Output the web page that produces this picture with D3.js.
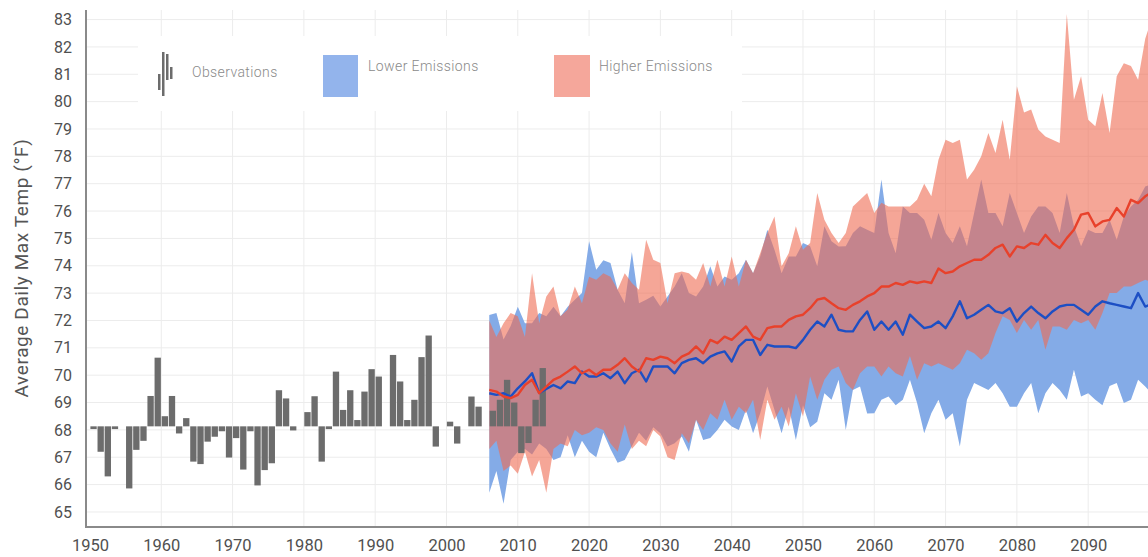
<!DOCTYPE html>
<html>
<head>
<meta charset="utf-8">
<script src="https://cdn.jsdelivr.net/npm/d3@7"></script>
<style>
  html, body { margin: 0; padding: 0; background: #fff; }
  svg { display: block; font-family: Roboto, "Noto Sans", sans-serif; }
</style>
</head>
<body>
<svg id="chart" width="1148" height="557"></svg>
<script>
// Observed annual values (°F), one per year starting 1950; null = no bar drawn
const obsStartYear = 1950;
const obsValues = [
  68.03, 67.2, 66.3, 68.03, null, 65.86, 67.27, 67.6, 69.24, 70.64,
  68.5, 69.24, 67.87, 68.43, 66.84, 66.75, 67.57, 67.75, 67.95, 66.99,
  67.7, 66.55, 67.95, 65.97, 66.53, 66.78, 69.45, 69.15, 67.98, null,
  68.65, 69.23, 66.84, 68.03, 70.13, 68.73, 69.45, 68.36, 69.4, 70.22,
  69.95, null, 70.74, 69.77, 68.36, 69.1, 70.66, 71.45, 67.39, null,
  68.3, 67.5, null, 69.22, 68.85, null, 68.7, 69.1, 69.83, 69.0,
  67.15, 67.52, 69.1, 70.26
];
const obsBaseline = 68.13;

// Modelled projections, one value per year 2006–2100
const projStartYear = 2006;
const higherMedian = [
  69.46, 69.4, 69.22, 69.16, 69.28, 69.64, 69.83, 69.34, 69.58, 69.83, 69.95, 70.13, 70.32, 70.07, 70.2, 70.01, 70.2, 70.2, 70.38, 70.62, 70.32, 70.13, 70.62, 70.56,
  70.68, 70.62, 70.44, 70.68, 70.8, 71.05, 70.8, 71.29, 71.17, 71.41, 71.29, 71.54, 71.78, 71.41, 71.29, 71.72, 71.78, 71.78, 72.02, 72.15, 72.21, 72.45, 72.76, 72.82,
  72.63, 72.45, 72.39, 72.57, 72.7, 72.88, 73.0, 73.24, 73.24, 73.37, 73.3, 73.43, 73.37, 73.43, 73.37, 73.9, 73.73, 73.79, 73.98, 74.1, 74.22, 74.22, 74.4,
  74.65, 74.77, 74.34, 74.71, 74.65, 74.83, 74.77, 75.13, 74.83, 74.65, 75.01, 75.32, 75.87, 75.93, 75.44, 75.62, 75.68, 76.11, 75.8, 76.41, 76.29, 76.54, 76.7, 76.6
];
const lowerMedian = [
  69.34, 69.28, 69.34, 69.22, 69.52, 69.77, 70.07, 69.35, 69.5, 69.64, 69.52, 69.77, 69.71, 70.13, 69.95, 69.95, 70.07, 69.89, 70.13, 69.71, 70.07, 70.2, 69.77, 70.32,
  70.32, 70.32, 70.07, 70.44, 70.56, 70.62, 70.44, 70.68, 70.8, 70.87, 70.5, 71.05, 71.29, 71.29, 70.74, 71.11, 71.05, 71.05, 71.05, 70.99, 71.29, 71.66, 71.96, 71.78,
  72.21, 71.66, 71.6, 71.6, 72.02, 72.33, 71.66, 71.96, 71.66, 71.96, 71.48, 72.21, 71.96, 71.72, 71.78, 71.96, 71.72, 72.15, 72.7, 72.08, 72.21, 72.39, 72.57,
  72.33, 72.27, 72.45, 71.96, 72.27, 72.51, 72.27, 72.08, 72.33, 72.51, 72.57, 72.57, 72.39, 72.21, 72.51, 72.7, 72.63, 72.57, 72.51, 72.45, 73.0, 72.51, 72.6, 72.7
];
const higherMax = [
  72.0, 71.4, 71.9, 72.27, 72.15, 71.4, 73.73, 71.9, 72.88, 73.24, 72.15, 72.4, 73.24, 72.63, 73.6, 73.49, 73.73, 73.6, 73.12, 73.73, 73.37, 73.12, 74.95, 74.22,
  74.1, 72.63, 73.73, 73.79, 73.73, 73.49, 74.1, 73.24, 74.22, 73.24, 74.34, 73.24, 74.22, 73.73, 74.46, 75.2, 75.8, 73.98, 74.46, 75.44, 74.59, 74.83, 76.66, 75.68,
  75.2, 74.83, 75.2, 76.17, 76.41, 76.66, 75.93, 76.3, 76.17, 76.17, 76.17, 76.17, 76.41, 77.0, 76.54, 77.88, 78.61, 78.49, 78.61, 77.15, 77.51, 78.0, 78.85,
  78.12, 79.34, 77.88, 80.56, 79.6, 79.71, 78.98, 78.73, 78.61, 78.49, 83.2, 80.07, 80.93, 79.34, 79.1, 80.32, 78.85, 80.93, 81.4, 81.3, 80.8, 82.3, 83.1, 82.5
];
const higherMin = [
  67.3, 67.6, 66.5, 66.7, 66.4, 67.2, 66.3, 66.9, 65.7, 67.3, 67.5, 67.4, 68.0, 67.8, 67.9, 68.1, 68.0, 67.5, 67.2, 68.2, 67.3, 67.6, 67.4, 68.0,
  67.76, 67.0, 66.9, 67.88, 67.51, 68.37, 68.0, 68.61, 68.37, 69.1, 68.37, 68.85, 68.61, 69.1, 67.63, 69.1, 68.37, 68.85, 68.12, 69.34, 68.49, 69.95, 69.1, 69.83,
  70.2, 70.32, 69.71, 69.46, 70.07, 70.32, 70.32, 69.95, 70.32, 70.07, 69.95, 70.7, 69.83, 70.44, 70.32, 70.44, 70.32, 70.2, 70.44, 70.93, 70.8, 70.56, 70.8,
  71.54, 72.15, 72.02, 71.54, 72.02, 71.66, 72.02, 70.93, 71.78, 71.78, 71.66, 72.02, 71.9, 72.02, 71.66, 72.27, 73.0, 73.0, 73.24, 73.24, 73.37, 73.49, 73.4, 73.5
];
const lowerMax = [
  72.2, 72.27, 71.3, 71.8, 72.5, 71.9, 71.9, 72.27, 72.15, 72.5, 72.15, 72.5, 72.76, 73.0, 74.9, 73.85, 74.2, 74.1, 73.12, 72.63, 74.5, 72.63, 72.76, 72.9,
  72.51, 72.88, 73.24, 73.73, 73.0, 72.88, 73.24, 73.98, 73.24, 73.61, 73.49, 73.73, 74.22, 73.73, 74.34, 75.32, 74.59, 73.73, 74.34, 74.34, 74.83, 74.71, 73.98, 75.44,
  74.9, 74.7, 74.71, 75.2, 75.44, 75.32, 75.2, 77.15, 75.2, 74.46, 76.17, 75.93, 75.93, 75.68, 74.95, 75.93, 75.2, 74.83, 75.44, 74.71, 75.93, 77.15, 75.93,
  75.93, 75.44, 76.66, 75.93, 75.2, 75.8, 76.17, 76.17, 75.93, 75.2, 76.66, 75.44, 74.71, 75.32, 75.2, 75.2, 75.68, 74.95, 75.8, 76.17, 76.41, 76.9, 77.0, 77.2
];
const lowerMin = [
  65.7, 66.5, 65.3, 66.9, 67.2, 67.3, 67.1, 67.5, 67.3, 66.9, 67.0, 67.8, 67.0, 67.6, 67.2, 67.0, 67.9, 67.3, 66.8, 66.9, 67.4, 67.9, 67.6, 68.1,
  67.88, 67.39, 67.51, 67.76, 67.2, 68.37, 67.63, 67.7, 68.0, 68.37, 68.12, 68.0, 68.73, 67.88, 68.61, 69.59, 68.73, 67.88, 68.85, 67.63, 68.9, 68.1, 68.3, 69.34,
  69.1, 69.83, 68.0, 69.46, 69.59, 68.6, 68.61, 69.1, 69.22, 68.9, 69.1, 69.83, 68.98, 67.88, 68.61, 69.1, 68.37, 68.61, 67.39, 69.1, 69.71, 69.59, 69.46,
  69.71, 69.34, 68.85, 68.85, 69.34, 69.71, 68.61, 69.34, 69.71, 69.46, 69.1, 70.2, 69.22, 69.34, 69.1, 68.9, 69.6, 69.71, 68.98, 69.1, 69.83, 69.59, 69.3, 69.5
];

// Axis ticks
const yTicks = d3.range(65, 84);
const xTicks = d3.range(1950, 2100, 10);

const W = 1148, H = 557;
const svg = d3.select("#chart");

const x = d3.scaleLinear().domain([1949.44, 2100]).range([86, 86 + 150.56 * 7.13]);
const y = d3.scaleLinear().domain([64.45, 83.35]).range([527, 10]);

const obs = obsValues.map((v, i) => ({ year: obsStartYear + i, v }));
const proj = higherMedian.map((_, i) => ({
  year: projStartYear + i,
  hiMed: higherMedian[i], loMed: lowerMedian[i],
  hiMax: higherMax[i], hiMin: higherMin[i],
  loMax: lowerMax[i], loMin: lowerMin[i]
}));

svg.append("defs").append("clipPath").attr("id", "plot")
  .append("rect").attr("x", 86).attr("y", 0).attr("width", W - 86).attr("height", 527);

// Grid
const grid = svg.append("g").attr("stroke", "#ececec").attr("stroke-width", 1);
grid.selectAll("line.h").data(yTicks).join("line")
  .attr("x1", 86).attr("x2", W).attr("y1", d => y(d)).attr("y2", d => y(d));
grid.selectAll("line.v").data(xTicks.filter(d => d > 1950)).join("line")
  .attr("y1", 10).attr("y2", 527).attr("x1", d => x(d)).attr("x2", d => x(d));

const plot = svg.append("g").attr("clip-path", "url(#plot)");

// Model ranges
plot.append("path").datum(proj)
  .attr("fill", "#84abe7")
  .attr("d", d3.area().x(d => x(d.year)).y0(d => y(d.loMin)).y1(d => y(d.loMax)));
plot.append("path").datum(proj)
  .attr("fill", "#ee6a52").attr("fill-opacity", 0.6)
  .attr("d", d3.area().x(d => x(d.year)).y0(d => y(d.hiMin)).y1(d => y(d.hiMax)));

// Observation bars, measured from the baseline
plot.append("g").attr("fill", "#6c6c6c")
  .selectAll("rect").data(obs.filter(d => d.v !== null)).join("rect")
  .attr("x", d => x(d.year) + 0.4)
  .attr("width", d => x(d.year + 1) - x(d.year) - 0.8)
  .attr("y", d => y(Math.max(d.v, obsBaseline)))
  .attr("height", d => Math.abs(y(d.v) - y(obsBaseline)));

// Median lines
plot.append("path").datum(proj)
  .attr("fill", "none").attr("stroke", "#1d4fc4").attr("stroke-width", 2.4)
  .attr("stroke-linejoin", "round")
  .attr("d", d3.line().x(d => x(d.year)).y(d => y(d.loMed)));
plot.append("path").datum(proj)
  .attr("fill", "none").attr("stroke", "#e8412b").attr("stroke-width", 2.4)
  .attr("stroke-linejoin", "round")
  .attr("d", d3.line().x(d => x(d.year)).y(d => y(d.hiMed)));

// Axes
const yAxis = svg.append("g").attr("transform", "translate(86,0)")
  .call(d3.axisLeft(y).tickValues(yTicks).tickSize(0).tickPadding(14).tickFormat(d3.format("d")));
yAxis.select(".domain").remove();
yAxis.selectAll("text").attr("fill", "#505050").attr("font-size", 16).attr("font-family", "Roboto, sans-serif");

const xAxis = svg.append("g").attr("transform", "translate(0,527)")
  .call(d3.axisBottom(x).tickValues(xTicks).tickSize(0).tickPadding(12).tickFormat(d3.format("d")));
xAxis.select(".domain").remove();
xAxis.selectAll("text").attr("fill", "#505050").attr("font-size", 16.5).attr("font-family", "Roboto, sans-serif");

svg.append("line").attr("x1", 86).attr("x2", 86).attr("y1", 10).attr("y2", 528)
  .attr("stroke", "#8a8a8a").attr("stroke-width", 2);
svg.append("line").attr("x1", 85).attr("x2", W).attr("y1", 527).attr("y2", 527)
  .attr("stroke", "#8a8a8a").attr("stroke-width", 2);

svg.append("text")
  .attr("transform", "translate(28,268) rotate(-90)")
  .attr("text-anchor", "middle")
  .attr("fill", "#555").attr("font-size", 19).attr("letter-spacing", 0.6)
  .text("Average Daily Max Temp (°F)");

// Legend
const legend = svg.append("g");
legend.append("rect").attr("x", 138).attr("y", 36).attr("width", 604).attr("height", 75).attr("fill", "#fff");
const icon = legend.append("g").attr("fill", "#6c6c6c");
[[158, 74, 2.5, 16], [162, 52, 2.5, 44], [166, 54, 2.5, 26], [170, 67, 2.5, 12]].forEach(([ix, iy, iw, ih]) =>
  icon.append("rect").attr("x", ix).attr("y", iy).attr("width", iw).attr("height", ih));
const legendText = (tx, ty, label) => legend.append("text").attr("x", tx).attr("y", ty)
  .attr("fill", "#8a8a8a").attr("font-size", 14).attr("font-weight", 300)
  .attr("letter-spacing", 0.4).text(label);
legendText(192, 77, "Observations");
legend.append("rect").attr("x", 323).attr("y", 55).attr("width", 35).attr("height", 42).attr("fill", "#93b4ec");
legendText(368, 71, "Lower Emissions");
legend.append("rect").attr("x", 554).attr("y", 55).attr("width", 36).attr("height", 42).attr("fill", "#f5a79b");
legendText(599, 71, "Higher Emissions");
</script>
</body>
</html>
